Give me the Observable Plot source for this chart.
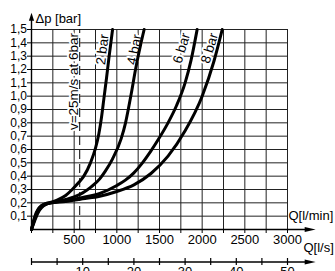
<!DOCTYPE html>
<html><head><meta charset="utf-8">
<script src="https://cdn.jsdelivr.net/npm/d3@7"></script>
<script src="https://cdn.jsdelivr.net/npm/@observablehq/plot@0.6"></script>
<style>html,body{margin:0;padding:0;background:#fff}</style>
</head><body><div id="chart"></div>
<script>
// Series: pressure drop Δp [bar] vs flow Q [l/min] at different inlet pressures
const pressures = ["2 bar", "4 bar", "6 bar", "8 bar"];
const flow2 = [0, 40, 80, 120, 170, 220, 300, 400, 477, 550, 613, 691, 750, 790, 820, 848, 880, 906, 950];
const dp2   = [0, 0.10, 0.155, 0.18, 0.195, 0.202, 0.22, 0.255, 0.30, 0.35, 0.40, 0.50, 0.61, 0.72, 0.84, 0.98, 1.14, 1.28, 1.50];
const flow4 = [0, 40, 80, 120, 170, 220, 400, 500, 600, 700, 800, 867, 950, 1050, 1102, 1140, 1172, 1219, 1277, 1320];
const dp4   = [0, 0.09, 0.15, 0.178, 0.194, 0.20, 0.225, 0.245, 0.275, 0.32, 0.38, 0.44, 0.53, 0.68, 0.80, 0.92, 1.03, 1.20, 1.38, 1.50];
const flow6 = [0, 40, 80, 120, 170, 220, 400, 600, 800, 1000, 1100, 1200, 1300, 1400, 1500, 1600, 1700, 1800, 1870, 1941];
const dp6   = [0, 0.08, 0.14, 0.172, 0.19, 0.20, 0.215, 0.24, 0.27, 0.33, 0.37, 0.425, 0.50, 0.59, 0.69, 0.80, 0.93, 1.10, 1.27, 1.50];
const flow8 = [0, 40, 80, 120, 170, 220, 400, 600, 800, 1000, 1200, 1400, 1600, 1800, 2000, 2137, 2235];
const dp8   = [0, 0.07, 0.13, 0.165, 0.188, 0.198, 0.21, 0.23, 0.25, 0.285, 0.335, 0.42, 0.55, 0.74, 1.00, 1.26, 1.50];

// Label anchors (data coordinates) and angles for the curve labels
const labelFlow = [832, 1207, 1758, 2086];
const labelDp   = [1.35, 1.35, 1.36, 1.36];
const labelAngle = [-83, -79, -73, -73];

// Velocity limit line
const velocityText = "v=25m/s at 6bar";
const velocityFlow = 565;

// Axes / ticks
const xTicks = [0, 250, 500, 750, 1000, 1250, 1500, 1750, 2000, 2250, 2500, 2750, 3000];
const xTickLabels = [500, 1000, 1500, 2000, 2500, 3000];
const yTicks = [0.1, 0.2, 0.3, 0.4, 0.5, 0.6, 0.7, 0.8, 0.9, 1.0, 1.1, 1.2, 1.3, 1.4, 1.5];
const yTickLabels = ["0,1","0,2","0,3","0,4","0,5","0,6","0,7","0,8","0,9","1,0","1,1","1,2","1,3","1,4","1,5"];
const lsTicks = [0, 5, 10, 15, 20, 25, 30, 35, 40, 45, 50];
const lsTickLabels = [10, 20, 30, 40, 50];
const lminPerLs = 60;

const flows = [flow2, flow4, flow6, flow8];
const dps = [dp2, dp4, dp6, dp8];
const curves = pressures.flatMap((p, k) => flows[k].map((q, i) => ({p, q, dp: dps[k][i]})));
const labels = pressures.map((p, i) => ({p, q: labelFlow[i], dp: labelDp[i], a: labelAngle[i]}));

const arrowUp = {draw(ctx) { ctx.moveTo(0, 0); ctx.lineTo(2.6, 8); ctx.lineTo(-2.6, 8); ctx.closePath(); }};
const arrowRight = {draw(ctx) { ctx.moveTo(0, 0); ctx.lineTo(-11, 2.6); ctx.lineTo(-11, -2.6); ctx.closePath(); }};

const font = "'Liberation Sans', Arial, Helvetica, sans-serif";

const chart = Plot.plot({
  width: 335,
  height: 271,
  marginLeft: 31,
  marginRight: 48,
  marginTop: 29,
  marginBottom: 42,
  x: {domain: [0, 3000], label: null},
  y: {domain: [0, 1.5], label: null},
  style: {fontFamily: font, fontSize: "13px", background: "#fff", color: "#000", overflow: "visible"},
  marks: [
    // grid
    Plot.ruleX(xTicks, {stroke: "#222", strokeWidth: 1}),
    Plot.ruleY(yTicks, {stroke: "#222", strokeWidth: 1}),
    // velocity label and dashed line
    Plot.text([velocityText], {x: velocityFlow - 67, y: 1.11, rotate: -90, fill: "#000", stroke: "#fff", strokeWidth: 4, fontSize: 13.5}),
    Plot.ruleX([velocityFlow], {y1: 0, y2: 1.5, stroke: "#000", strokeWidth: 1, strokeDasharray: "9,5"}),
    // curve labels
    Plot.text(labels, {x: "q", y: "dp", text: "p", rotate: "a", fill: "#000", stroke: "#fff", strokeWidth: 4, fontSize: 13.5}),
    // curves
    Plot.line(curves, {x: "q", y: "dp", z: "p", stroke: "#000", strokeWidth: 3, curve: "monotone-x", strokeLinejoin: "round", strokeLinecap: "round"}),
    // axes
    Plot.axisX(xTicks, {tickSize: 4, tickPadding: 1, tickFormat: d => xTickLabels.includes(d) ? String(d) : "", label: null}),
    Plot.axisY(yTicks, {tickSize: 4, tickPadding: 0.5, fontSize: 12, tickFormat: d => yTickLabels[yTicks.indexOf(d)], label: null}),
    Plot.ruleX([0], {y1: 0, y2: 1.58, stroke: "#000", strokeWidth: 1.4}),
    Plot.ruleY([0], {x1: 0, x2: 3250, stroke: "#000", strokeWidth: 1.4}),
    Plot.dot([0], {x: 0, y: 1.625, symbol: arrowUp, fill: "#000", stroke: null}),
    Plot.dot([0], {x: 3330, y: 0, symbol: arrowRight, fill: "#000", stroke: null}),
    Plot.text(["Δp [bar]"], {x: 0, y: 1.5, dx: 4, dy: -10.5, textAnchor: "start", fill: "#000"}),
    Plot.text(["Q[l/min]"], {x: 3000, y: 0, dx: 1, dy: -13.5, textAnchor: "start", fill: "#000"}),
    // secondary l/s axis
    Plot.ruleY([0], {x1: 0, x2: 3250, dy: 32.5, stroke: "#000", strokeWidth: 1.4}),
    Plot.ruleX(lsTicks, {x: d => d * lminPerLs, y1: 0, y2: 0, insetTop: -3.5, insetBottom: -3.5, dy: 32.5, stroke: "#000", strokeWidth: 1.2}),
    Plot.dot([0], {x: 3330, y: 0, dy: 32.5, symbol: arrowRight, fill: "#000", stroke: null}),
    Plot.text(lsTickLabels, {x: d => d * lminPerLs, y: 0, dy: 37.5, lineAnchor: "top", fill: "#000"}),
    Plot.text(["Q[l/s]"], {x: 3000, y: 0, dx: 16, dy: 18, textAnchor: "start", fill: "#000"})
  ]
});
document.getElementById("chart").appendChild(chart);
</script>
</body></html>
